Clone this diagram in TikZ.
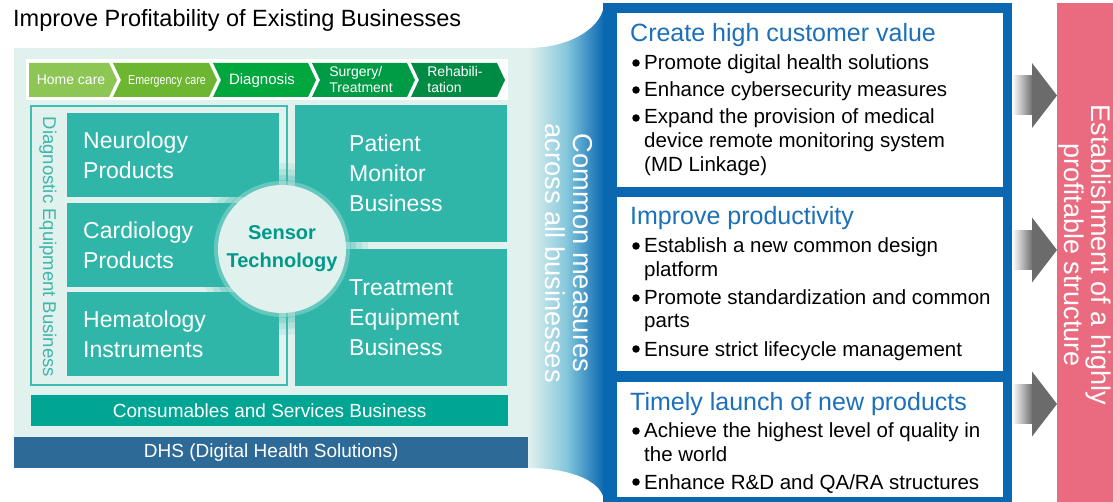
\documentclass[tikz,border=0pt]{standalone}
\usepackage{fontspec}
\setmainfont{Liberation Sans}
\usetikzlibrary{positioning}

\definecolor{panelmint}{HTML}{E1F1EE}
\definecolor{boxteal}{HTML}{30B6A9}
\definecolor{consteal}{HTML}{00A594}
\definecolor{dhsblue}{HTML}{2E6A98}
\definecolor{diagline}{HTML}{3FBDB0}
\definecolor{diagtext}{HTML}{40B5A9}
\definecolor{sensorteal}{HTML}{00998A}
\definecolor{mblue}{HTML}{0A68B3}
\definecolor{midcyan}{HTML}{86C8DC}
\definecolor{titleblue}{HTML}{1C70BA}
\definecolor{pinkbar}{HTML}{EA6B80}
\definecolor{arrowgray}{HTML}{6B6B6B}
\definecolor{chA}{HTML}{8DC655}
\definecolor{chB}{HTML}{6DB631}
\definecolor{chC}{HTML}{00A73D}
\definecolor{chD}{HTML}{009C45}
\definecolor{chE}{HTML}{008B45}

\newcommand\pxfont[2]{\fontsize{#1}{#2}\selectfont}

\begin{document}
\begin{tikzpicture}[
  x = 1pt, y = -1pt,
  tealbox/.style = {fill=boxteal, anchor=north west, inner sep=0pt, minimum width=212pt},
  boxtext/.style = {text=white, align=left, inner sep=0pt, font=\pxfont{23}{30}},
  chevtext/.style = {text=white, align=left, anchor=base, inner sep=0pt, font=\pxfont{14}{16}},
  bar/.style = {anchor=north west, inner sep=0pt, text=white, font=\pxfont{19}{22}},
  sensor/.style = {circle, fill=panelmint, minimum size=128pt, inner sep=0pt, align=center,
                   text=sensorteal, font=\bfseries\pxfont{20}{28}},
  card/.style = {fill=white, anchor=north west, inner sep=0pt, minimum width=386pt},
  cardtitle/.style = {text=titleblue, anchor=base west, inner sep=0pt, font=\pxfont{25}{28}},
  bullet/.style = {anchor=base west, align=left, inner sep=0pt, font=\pxfont{20.5}{24}},
  dot/.style = {circle, fill=black, inner sep=0pt, minimum size=7.5pt},
  sideways/.style = {rotate=-90, align=center, inner sep=0pt, text=white},
  ]
  \useasboundingbox (0,0) rectangle (1113,502);

  \node[anchor=base west, inner sep=0pt, font=\pxfont{23.5}{26}] (title) at (13,27)
    {Improve Profitability of Existing Businesses};

  \fill[panelmint] (14,48) rectangle (528,437);
  \shade[left color=panelmint, right color=mblue, middle color=midcyan]
    (528,48) .. controls (572,48) and (604,26) .. (604,3) -- (604,502)
    .. controls (604,482) and (572,468) .. (528,468) -- cycle;
  \fill[mblue] (603,3) rectangle (1012,502);

  \fill[white] (26,59) rectangle (508,100);
  \foreach \l/\s/\col/\n in {29/109/chA/0, 113/209/chB/1, 213/308/chC/1, 312/407/chD/1, 411/497/chE/1}
    \fill[\col] (\l,63) -- (\s,63) -- (\s+8,80) -- (\s,97) -- (\l,97) -- (\l+8*\n,80) -- cycle;
  \node[chevtext] (home) at (71,85) {Home care};
  \node[chevtext] (emerg) at (167,85) {\scalebox{0.82}[1]{\pxfont{13}{16}Emergency care}};
  \node[chevtext, font=\pxfont{15}{17}] (diag) at (262,85) {Diagnosis};
  \node[chevtext] (surg) at (361,93) {Surgery/\\Treatment};
  \node[chevtext] (rehab) at (455,93) {Rehabili-\\tation};

  \draw[diagline, line width=1.2pt] (31,106) rectangle (287,385);
  \node[rotate=-90, inner sep=0pt, text=diagtext, font=\pxfont{18.5}{20}] (diaglabel) at (48,247)
    {Diagnostic Equipment Business};

  \foreach \r/\o in {86/.12, 80/.16, 74/.22, 69/.3}
    \fill[boxteal, opacity=\o] (282,249) circle (\r);

  \node[tealbox, minimum height=84pt] (neuro) at (67,113) {};
  \node[tealbox, minimum height=84pt] (cardio) at (67,203) {};
  \node[tealbox, minimum height=84pt] (hema) at (67,292) {};
  \node[tealbox, minimum height=137pt] (patient) at (295,105) {};
  \node[tealbox, minimum height=137pt] (treat) at (295,249) {};
  \node[boxtext, right=16pt of neuro.west] (neurotext) {Neurology\\Products};
  \node[boxtext, right=16pt of cardio.west] (cardiotext) {Cardiology\\Products};
  \node[boxtext, right=16pt of hema.west] (hematext) {Hematology\\Instruments};
  \node[boxtext, right=54pt of patient.west] (patienttext) {Patient\\Monitor\\Business};
  \node[boxtext, right=54pt of treat.west] (treattext) {Treatment\\Equipment\\Business};

  \fill[panelmint, opacity=.3] (282,249) circle (68);
  \node[sensor] (sensor) at (282,249) {Sensor\\Technology};

  \node[bar, fill=consteal, minimum width=477pt, minimum height=31pt] (cons) at (31,395)
    {Consumables and Services Business};
  \node[bar, fill=dhsblue, minimum width=514pt, minimum height=31pt] (dhs) at (14,437)
    {DHS (Digital Health Solutions)};

  \node[sideways, font=\pxfont{27.3}{28}] (common) at (569,253) {Common measures\\across all businesses};

  \node[card, minimum height=174pt] (card1) at (617,13) {};
  \node[card, minimum height=174pt] (card2) at (617,197) {};
  \node[card, minimum height=115pt] (card3) at (617,382) {};

  \node[cardtitle] (value) at (630,42) {Create high customer value};
  \node[bullet] (value1) at (644,70) {Promote digital health solutions};
  \node[bullet] (value2) at (644,97) {Enhance cybersecurity measures};
  \node[bullet] (value3) at (644,172) {Expand the provision of medical\\device remote monitoring system\\(MD Linkage)};

  \node[cardtitle] (prod) at (630,225) {Improve productivity};
  \node[bullet] (prod1) at (644,277) {Establish a new common design\\platform};
  \node[bullet] (prod2) at (644,328) {Promote standardization and common\\parts};
  \node[bullet] (prod3) at (644,356) {Ensure strict lifecycle management};

  \node[cardtitle] (launch) at (630,410) {Timely launch of new products};
  \node[bullet] (launch1) at (644,461) {Achieve the highest level of quality in\\the world};
  \node[bullet] (launch2) at (644,489) {Enhance R\&D and QA/RA structures};

  \foreach \y in {70,97,125,253,305,356,438,489}
    \node[dot] (dot\y) at (636,\y-7) {};

  \foreach \ay in {95.5,250,404} {
    \shade[left color=white, right color=arrowgray] (1012,\ay-19.5) rectangle (1033,\ay+19.5);
    \fill[arrowgray] (1032,\ay-32.5) -- (1057,\ay) -- (1032,\ay+32.5) -- cycle;
  }

  \fill[pinkbar] (1057,3) rectangle (1113,502);
  \node[sideways, font=\pxfont{27}{27}] (goal) at (1085,255)
    {Establishment of a highly\\profitable structure};
\end{tikzpicture}
\end{document}
